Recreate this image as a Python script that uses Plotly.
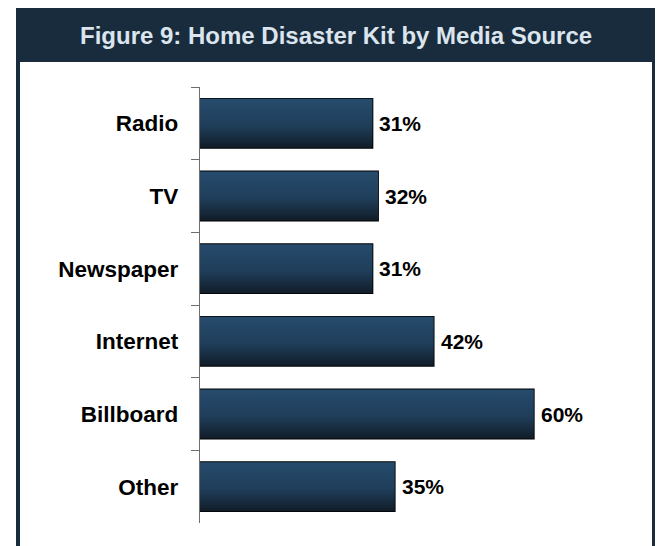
import plotly.graph_objects as go

# Survey results: share with a home disaster kit, by media source
categories = ["Radio", "TV", "Newspaper", "Internet", "Billboard", "Other"]
values = [31, 32, 31, 42, 60, 35]
title_text = "Figure 9: Home Disaster Kit by Media Source"

W, H = 657, 546
L, R, T, B = 200, 12, 87, 23
PW, PH = W - L - R, H - T - B
X_MAX = 80

FONT = "Liberation Sans, Arial, sans-serif"
NAVY = "#182c3d"
BAR_TOP = "#264b6c"
BAR_MID = "#1f3e5a"
BAR_BOT = "#111c28"
BAR_W = 0.675


def px_x(px):
    return (px - L) / PW


def px_y(py):
    return (H - B - py) / PH


fig = go.Figure()

# Gradient-filled bar bodies on a numeric twin of the category axis
# (the gradient runs from the numerically highest y, i.e. bottom of the bar
# on the reversed axis, to the lowest)
for i, v in enumerate(values):
    y0, y1 = i - BAR_W / 2, i + BAR_W / 2
    fig.add_trace(go.Scatter(
        x=[0, v, v, 0, 0], y=[y0, y0, y1, y1, y0],
        yaxis="y2", mode="lines", fill="toself",
        line=dict(width=0, color="rgba(0,0,0,0)"),
        fillgradient=dict(
            type="vertical",
            colorscale=[[0, BAR_BOT], [0.45, BAR_MID], [1, BAR_TOP]],
        ),
        hoverinfo="skip", showlegend=False,
    ))

# Bar outlines
fig.add_trace(go.Bar(
    x=values, y=categories, orientation="h",
    width=BAR_W,
    marker=dict(color="rgba(0,0,0,0)", line=dict(color="#000000", width=1.8)),
    showlegend=False,
))

# Value labels at the end of each bar
for cat, v in zip(categories, values):
    fig.add_annotation(
        x=v, y=cat, xref="x", yref="y", text=f"{v}%",
        showarrow=False, xanchor="left", yanchor="middle", xshift=5,
        font=dict(family=FONT, size=21, color="#000000", weight="bold"),
    )

# Panel frame: navy header band and border around a white body
fig.add_shape(type="rect", xref="paper", yref="paper", layer="below",
              x0=px_x(16), x1=px_x(655), y0=px_y(560), y1=px_y(8),
              fillcolor=NAVY, line=dict(width=0))
fig.add_shape(type="rect", xref="paper", yref="paper", layer="below",
              x0=px_x(20), x1=px_x(652), y0=px_y(560), y1=px_y(62),
              fillcolor="#ffffff", line=dict(width=0))

fig.add_annotation(
    x=px_x(336), y=px_y(36), xref="paper", yref="paper",
    text=title_text, showarrow=False, xanchor="center", yanchor="middle",
    font=dict(family=FONT, size=24, color="#dce5ee", weight="bold"),
)

n = len(categories)
fig.update_layout(
    width=W, height=H,
    margin=dict(l=L, r=R, t=T, b=B, pad=0),
    paper_bgcolor="#ffffff", plot_bgcolor="rgba(0,0,0,0)",
    barmode="overlay",
    xaxis=dict(range=[0, X_MAX], visible=False, fixedrange=True),
    yaxis=dict(
        type="category", categoryorder="array", categoryarray=categories,
        range=[n - 0.5, -0.5],
        showline=True, linecolor="#6e6e6e", linewidth=1.3,
        ticks="outside", tickson="boundaries", ticklen=8,
        tickcolor="#6e6e6e", tickwidth=1.3,
        ticklabelstandoff=16,
        tickfont=dict(family=FONT, size=22.5, color="#000000", weight="bold"),
        showgrid=False, zeroline=False, fixedrange=True,
    ),
    yaxis2=dict(
        overlaying="y", range=[n - 0.5, -0.5], visible=False,
        fixedrange=True,
    ),
)

fig.write_html("out.html")
